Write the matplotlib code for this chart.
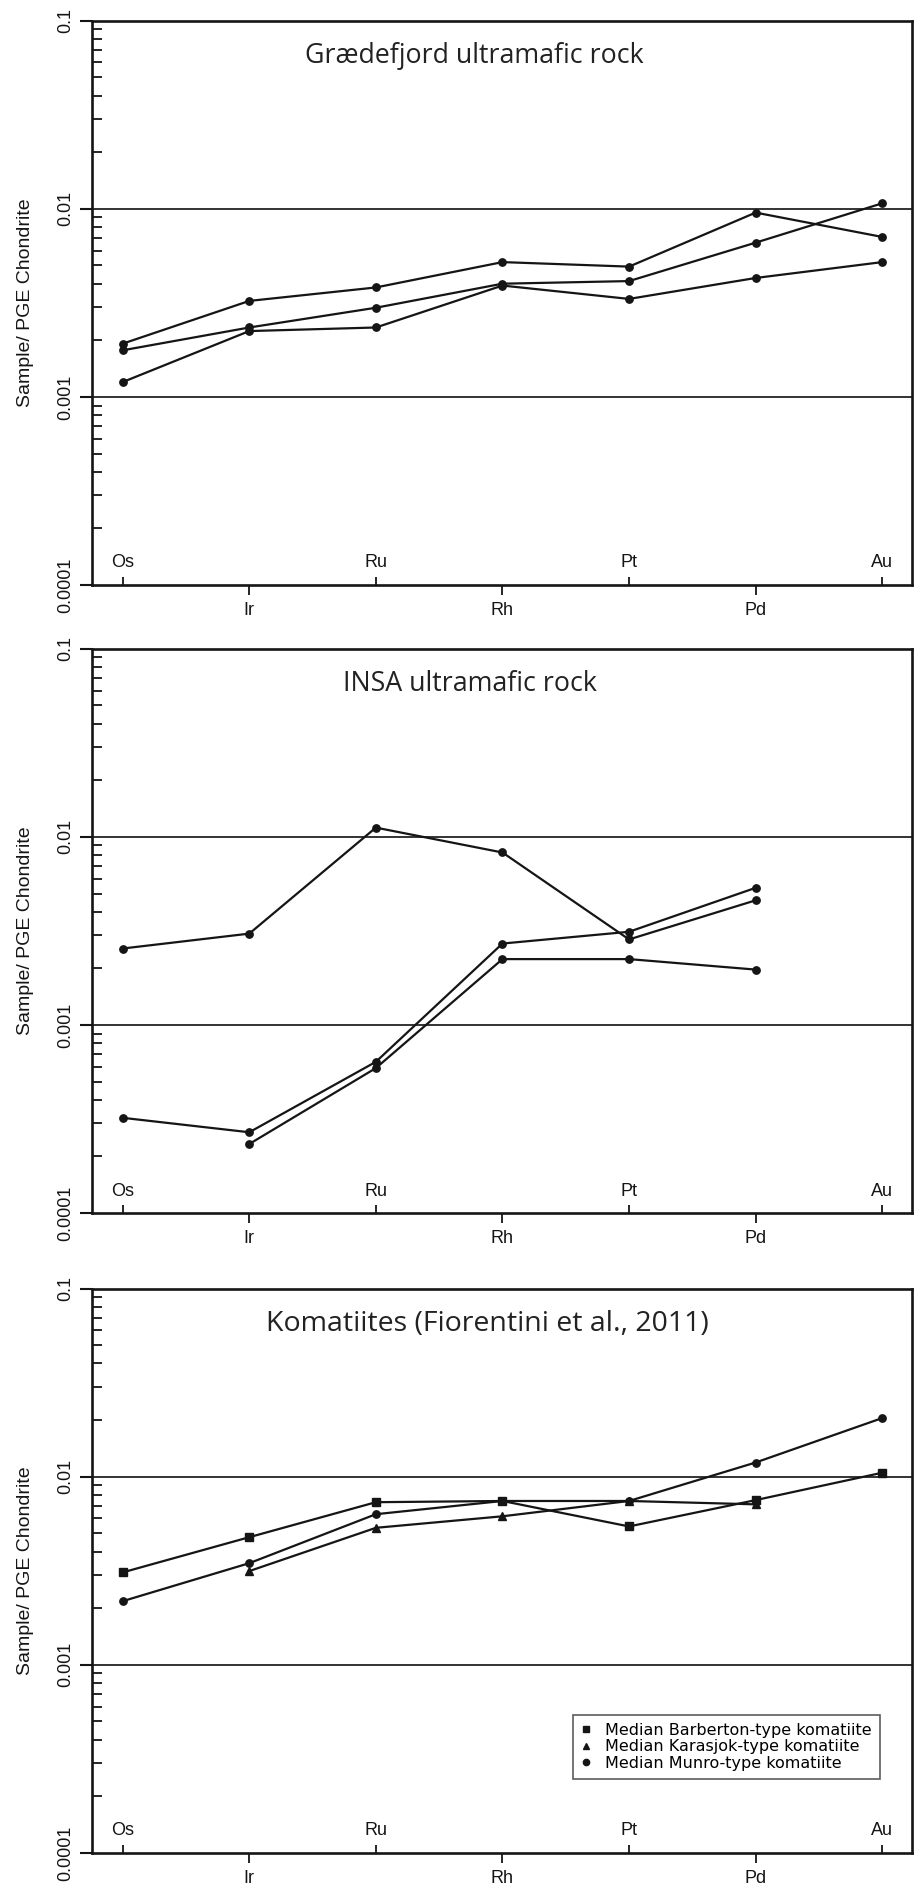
import numpy as np
import matplotlib.pyplot as plt
from matplotlib.ticker import FixedLocator, FixedFormatter, LogLocator, NullFormatter

elements = ["Os", "Ir", "Ru", "Rh", "Pt", "Pd", "Au"]
nan = np.nan

# Grædefjord ultramafic rock, chondrite normalised
graede_a = [0.00192, 0.00324, 0.00382, 0.00521, 0.00493, 0.00955, 0.00709]
graede_b = [0.00177, 0.00234, 0.00298, 0.00400, 0.00413, 0.00661, 0.0107]
graede_c = [0.00120, 0.00224, 0.00234, 0.00391, 0.00332, 0.00429, 0.00521]

# INSA ultramafic rock (no Au)
insa_a = [0.00255, 0.00306, 0.0112, 0.00826, 0.00285, 0.00460, nan]
insa_b = [0.000321, 0.000269, 0.000637, 0.00271, 0.00313, 0.00536, nan]
insa_c = [nan, 0.000233, 0.000590, 0.00224, 0.00224, 0.00197, nan]

# Komatiite medians (Fiorentini et al., 2011)
barberton = [0.00310, 0.00477, 0.00732, 0.00743, 0.00544, 0.00751, 0.0105]
karasjok = [nan, 0.00315, 0.00535, 0.00616, 0.00743, 0.00713, nan]
munro = [0.00218, 0.00347, 0.00632, 0.00743, 0.00743, 0.0119, 0.0205]

titles = ["Grædefjord ultramafic rock", "INSA ultramafic rock",
          "Komatiites (Fiorentini et al., 2011)"]
title_x = [0.466, 0.461, 0.482]
title_size = [19.3, 19.3, 20.5]

plt.rcParams['font.family'] = ['Liberation Sans', 'DejaVu Sans']

fig = plt.figure(figsize=(9.15, 19.02), dpi=100)
bottoms = [0.6924, 0.3622, 0.0258]
axes = [fig.add_axes([0.1002, b, 0.8965, 0.2967]) for b in bottoms]

ink = '#151515'


def style_axis(ax, title, tx, tsize):
    ax.set_yscale('log')
    ax.set_ylim(1e-4, 1e-1)
    ax.set_xlim(-0.245, 6.235)
    for s in ax.spines.values():
        s.set_linewidth(1.9)
        s.set_color(ink)
    ax.axhline(0.01, color='#333333', lw=1.4, zorder=1)
    ax.axhline(0.001, color='#333333', lw=1.4, zorder=1)

    # y axis: labelled decades outside, minor ticks inside
    ax.yaxis.set_major_locator(FixedLocator([1e-4, 1e-3, 1e-2, 1e-1]))
    ax.yaxis.set_major_formatter(FixedFormatter(["0.0001", "0.001", "0.01", "0.1"]))
    ax.yaxis.set_minor_locator(LogLocator(base=10, subs=np.arange(2, 10)))
    ax.yaxis.set_minor_formatter(NullFormatter())
    ax.tick_params(axis='y', which='major', direction='out', length=8.5, width=1.5,
                   pad=4, labelsize=13, labelrotation=90, colors=ink)
    ax.tick_params(axis='y', which='minor', direction='in', length=7, width=1.3,
                   colors=ink)
    for lab in ax.get_yticklabels():
        lab.set_va('center')

    # x axis: alternating element labels inside / outside
    ax.set_xticks([0, 2, 4, 6], [elements[i] for i in (0, 2, 4, 6)])
    ax.set_xticks([1, 3, 5], [elements[i] for i in (1, 3, 5)], minor=True)
    ax.tick_params(axis='x', which='major', direction='in', length=6, width=1.3,
                   pad=-22, labelsize=13, colors=ink)
    ax.tick_params(axis='x', which='minor', direction='out', length=7, width=1.3,
                   pad=5, labelsize=13, colors=ink)

    ax.set_ylabel("Sample/ PGE Chondrite", fontsize=14, color=ink)
    ax.yaxis.set_label_coords(-0.0703, 0.5)
    ax.text(tx, 0.938, title, transform=ax.transAxes, ha='center', va='center',
            fontsize=tsize, family='Open Sans', color='#222222')


line_kw = dict(color=ink, lw=1.6, markersize=5.3)
x = np.arange(len(elements))

ax1, ax2, ax3 = axes
for ax, t, tx, ts in zip(axes, titles, title_x, title_size):
    style_axis(ax, t, tx, ts)

for series in (graede_a, graede_b, graede_c):
    ax1.plot(x, series, marker='o', **line_kw)

for series in (insa_a, insa_b, insa_c):
    ax2.plot(x, series, marker='o', **line_kw)

ax3.plot(x, barberton, marker='s', **line_kw)
ax3.plot(x, karasjok, marker='^', **line_kw)
ax3.plot(x, munro, marker='o', **line_kw)

handles = [plt.Line2D([], [], ls='none', marker=m, color=ink, markersize=4.5)
           for m in ('s', '^', 'o')]
leg = ax3.legend(handles, ["Median Barberton-type komatiite",
                           "Median Karasjok-type komatiite",
                           "Median Munro-type komatiite"],
                 loc='lower left', bbox_to_anchor=(0.587, 0.131),
                 prop={'family': 'DejaVu Sans', 'size': 11.5},
                 frameon=True, fancybox=False, borderpad=0.5, labelspacing=0.1,
                 handlelength=0.6, handletextpad=0.9, borderaxespad=0)
leg.get_frame().set_edgecolor('#333333')
leg.get_frame().set_linewidth(1.2)

fig.savefig('out.png', dpi=100, facecolor='white')
